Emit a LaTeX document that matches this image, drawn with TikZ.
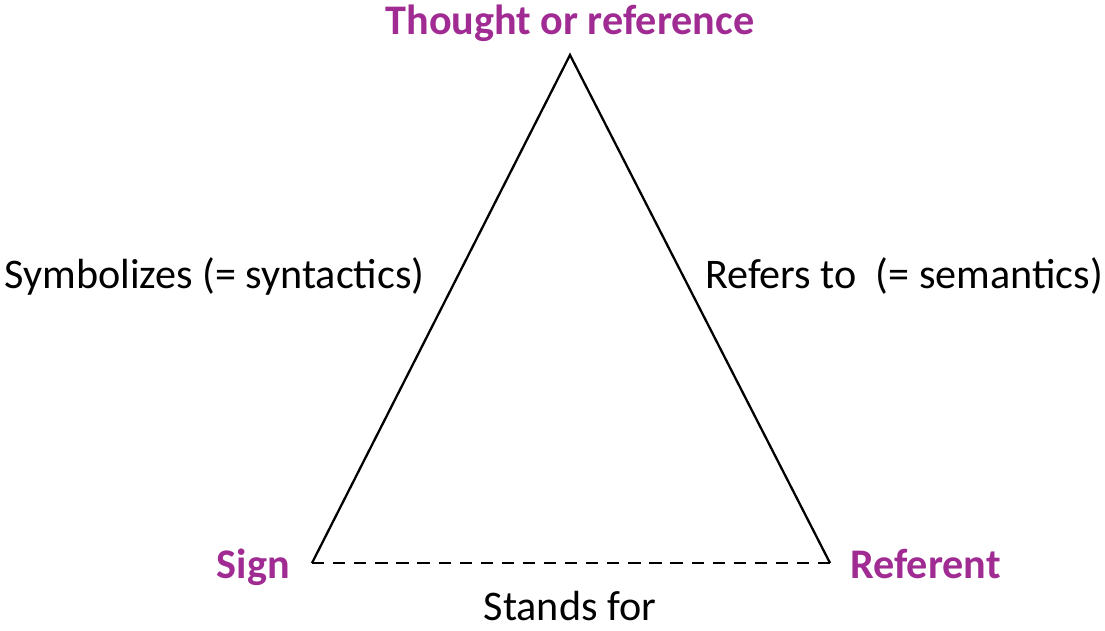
\documentclass[tikz,border=0pt]{standalone}
\usepackage{fontspec}
\setmainfont{Carlito}
\usetikzlibrary{positioning}
\definecolor{ogpurple}{HTML}{A02B93}
\tikzset{
  cornerlabel/.style={text=ogpurple,font=\fontsize{24}{28}\selectfont\bfseries,inner sep=0pt},
  sidelabel/.style={font=\fontsize{24}{28}\selectfont,inner sep=0pt},
  side/.style={line width=1.3pt},
  every picture/.style={line join=miter}
}

\begin{document}
\begin{tikzpicture}[x=0.02cm,y=-0.02cm]
  \useasboundingbox (0,0) rectangle (1105,630);
  \coordinate (apex) at (570,55);
  \coordinate (signpt) at (312,563);
  \coordinate (refpt) at (830,563);
  \node[cornerlabel,anchor=base] (thought) at (570,34) {Thought or reference};
  \node[cornerlabel,anchor=base east] (sign) at (290,578) {Sign};
  \node[cornerlabel,anchor=base west] (referent) at (850,578) {Referent};
  \draw[side] (signpt)--(apex)--(refpt);
  \draw[side,dashed,dash pattern=on 7pt off 5pt] (signpt)--(refpt);
  \node[sidelabel,anchor=base east] (symb) at (425,288) {Symbolizes (= syntactics)};
  \node[sidelabel,anchor=base west] (refers) at (705,288) {Refers to\ \ (= semantics)};
  \node[sidelabel,anchor=base] (stands) at (570,620) {Stands for};
\end{tikzpicture}
\end{document}
